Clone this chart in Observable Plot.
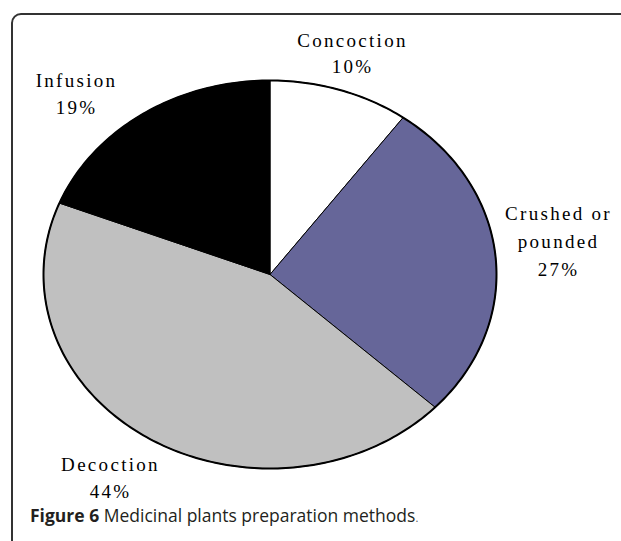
<!DOCTYPE html>
<html>
<head>
<meta charset="utf-8">
<script src="https://cdn.jsdelivr.net/npm/d3@7"></script>
<script src="https://cdn.jsdelivr.net/npm/@observablehq/plot@0.6"></script>
<style>
  html, body { margin: 0; padding: 0; background: #fff; overflow: hidden; width: 621px; height: 541px; }
  #wrap { position: relative; width: 621px; height: 541px; }
  #frame { position: absolute; left: 11px; top: 13px; width: 700px; height: 600px;
           border: 2px solid #333; border-top-left-radius: 10px; box-sizing: border-box; }
  #chart { position: absolute; left: 0; top: 0; }
  #chart text { letter-spacing: 2.3px; font-family: "Liberation Serif", "Times New Roman", serif; }
  #caption { position: absolute; left: 30px; top: 503px; font-family: "Open Sans", sans-serif;
             font-size: 17.5px; color: #231f20; white-space: nowrap; }
  #caption b { font-weight: 700; }
  #caption .dot { font-size: 11px; color: #555; }
</style>
</head>
<body>
<div id="wrap">
  <div id="frame"></div>
  <div id="chart"></div>
  <div id="caption"><b>Figure 6</b> Medicinal plants preparation methods<span class="dot">.</span></div>
</div>
<script>
// ---- data ----
const categories = ["Concoction", "Crushed or pounded", "Decoction", "Infusion"];
const percents = [10, 27, 44, 19];
const labelText = ["Concoction\n10%", "Crushed or\npounded\n27%", "Decoction\n44%", "Infusion\n19%"];
const sliceColors = ["#ffffff", "#666699", "#c0c0c0", "#000000"];

// ---- layout (pixels) ----
const W = 621, H = 541;
const cx = 269.5, cy = 274, rx = 226.5, ry = 194;
const labelLayout = [
  {px: 352, py: 72, lh: 1.32},
  {px: 558, py: 275, lh: 1.45},
  {px: 110, py: 497, lh: 1.42},
  {px: 76, py: 113, lh: 1.37}
];

// build slice polygons in unit-circle data space (angle clockwise from 12 o'clock)
const total = d3.sum(percents);
let cum = 0;
const slices = categories.map((c, i) => {
  const a0 = cum / total * 2 * Math.PI;
  cum += percents[i];
  const a1 = cum / total * 2 * Math.PI;
  const n = Math.max(8, Math.ceil((a1 - a0) / (Math.PI / 180)));
  const pts = [{x: 0, y: 0}];
  for (let k = 0; k <= n; k++) {
    const t = a0 + (a1 - a0) * k / n;
    pts.push({x: Math.sin(t), y: Math.cos(t)});
  }
  pts.push({x: 0, y: 0});
  return {category: c, color: sliceColors[i], pts};
});
const outline = d3.range(0, 361).map(d => ({x: Math.sin(d * Math.PI / 180), y: Math.cos(d * Math.PI / 180)}));

const toX = px => (px - cx) / rx;
const toY = py => (cy - py) / ry;

const marks = [];
slices.forEach(s => {
  marks.push(Plot.line(s.pts, {x: "x", y: "y", fill: s.color, stroke: "#000", strokeWidth: 1, curve: "linear"}));
});
marks.push(Plot.line(outline, {x: "x", y: "y", stroke: "#000", strokeWidth: 2}));
labelText.forEach((t, i) => {
  const L = labelLayout[i];
  marks.push(Plot.text([t], {
    x: () => toX(L.px), y: () => toY(L.py), text: d => d,
    lineAnchor: "bottom", textAnchor: "middle", lineHeight: L.lh,
    fontSize: 19, fontFamily: "Liberation Serif, Times New Roman, serif", fill: "#000"
  }));
});

const chart = Plot.plot({
  width: W, height: H,
  marginLeft: cx - rx, marginRight: W - (cx + rx),
  marginTop: cy - ry, marginBottom: H - (cy + ry),
  x: {domain: [-1, 1], axis: null},
  y: {domain: [-1, 1], axis: null},
  style: {background: "transparent", overflow: "visible"},
  marks
});
document.getElementById("chart").appendChild(chart);
</script>
</body>
</html>
